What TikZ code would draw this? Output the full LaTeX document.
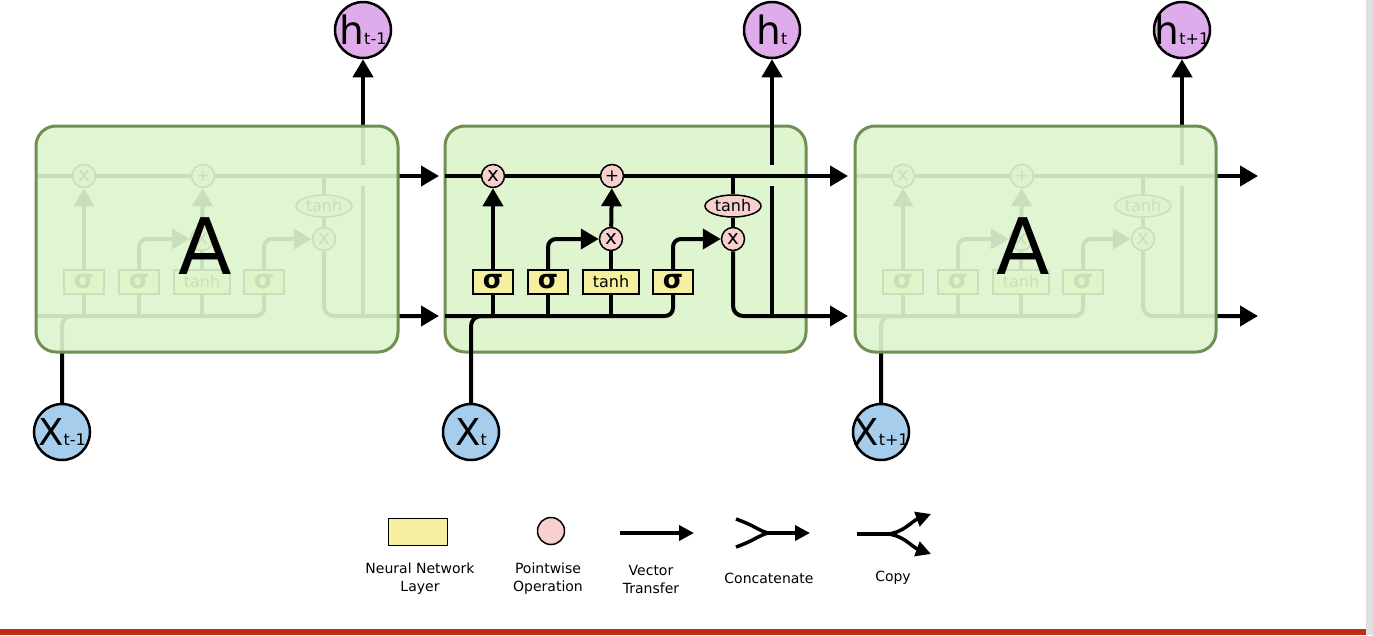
\documentclass[tikz,border=0pt]{standalone}
\usepackage{fontspec}
\setmainfont{DejaVu Sans}
\usetikzlibrary{arrows.meta,shapes.geometric}
\definecolor{cellfill}{RGB}{223,245,208}
\definecolor{cellfade}{RGB}{221,245,205}
\definecolor{celledge}{RGB}{111,143,83}
\definecolor{opfill}{RGB}{249,208,208}
\definecolor{layerfill}{RGB}{246,239,160}
\definecolor{hfill}{RGB}{222,172,234}
\definecolor{xfill}{RGB}{166,206,236}
\definecolor{barred}{RGB}{190,45,24}
\definecolor{bargrey}{RGB}{224,224,224}
\newcommand{\fs}[1]{\fontsize{#1}{#1}\selectfont}

\begin{document}
\begin{tikzpicture}[x=1pt, y=-1pt, line width=4pt,
  arr/.style={-{Triangle[length=18pt,width=20pt]}},
  larr/.style={-{Triangle[length=15pt,width=15pt]}},
  cell/.style={draw=celledge, line width=3pt, rounded corners=20pt},
  op/.style={circle, draw, line width=1.5pt, fill=opfill, minimum size=23pt, inner sep=0pt},
  lay/.style={draw, line width=1.5pt, fill=layerfill, minimum width=40pt, minimum height=24pt, inner sep=0pt},
  io/.style={circle, draw, line width=2.5pt, minimum size=56pt, inner sep=-10pt},
  lbl/.style={font=\fontsize{14}{18}\selectfont, align=center}]
  \useasboundingbox (0,0) rectangle (1373,635);
  \fill[bargrey] (1366,0) rectangle (1373,635);
  \fill[barred] (0,629) rectangle (1366,635);
  \draw[cell, fill=cellfill] (445,126) rectangle (806,352);
  \foreach \n/\dx/\s in {L/-409/t-1, M/0/t, R/410/t+1} {
    \begin{scope}[xshift=\dx pt]
      \coordinate (ci\n) at (445,176); \coordinate (co\n) at (848,176);
      \coordinate (hi\n) at (445,316); \coordinate (ho\n) at (848,316);
      \coordinate (hb\n) at (772,316); \coordinate (hg\n) at (772,186); \coordinate (hs\n) at (772,165);
      \node[op] (f\n) at (493,176) {\fs{20}x};
      \node[op] (p\n) at (612,176) {\fs{17}+};
      \node[op] (i\n) at (611,239) {\fs{20}x};
      \node[op] (o\n) at (733,239) {\fs{20}x};
      \node[op, ellipse, minimum width=56pt, minimum height=22pt] (th\n) at (733,206) {\fs{16}tanh};
      \node[lay] (s1\n) at (493,282) {\fs{26}\bfseries σ};
      \node[lay] (s2\n) at (548,282) {\fs{26}\bfseries σ};
      \node[lay, minimum width=56pt] (tb\n) at (611,282) {\fs{16}tanh};
      \node[lay] (s3\n) at (673,282) {\fs{26}\bfseries σ};
      \node[io, fill=hfill] (h\n) at (772,30) {\fs{39}h\fs{16}\s};
      \node[io, fill=xfill] (x\n) at (471,432) {\fs{37}X\fs{16}\s};
      \draw[arr] (ci\n) -- (f\n) -- (p\n) -- (co\n);
      \draw[rounded corners=8pt] (hi\n) -| (s3\n);
      \draw[rounded corners=10pt] (x\n) |- (s1\n |- hi\n);
      \foreach \b in {s1,s2,tb} \draw (\b\n) -- (\b\n |- hi\n);
      \draw[arr] (s1\n) -- (f\n);
      \draw[arr, rounded corners=8pt] (s2\n) |- (i\n);
      \draw (tb\n) -- (i\n);
      \draw[arr] (i\n) -- (p\n);
      \draw[arr, rounded corners=8pt] (s3\n) |- (o\n);
      \draw (th\n) -- (th\n |- ci\n); \draw (th\n) -- (o\n);
      \draw[arr, rounded corners=10pt] (o\n) |- (ho\n);
      \draw (hb\n) -- (hg\n); \draw[arr] (hs\n) -- (h\n);
    \end{scope}
  }
  \draw[cell, fill=cellfade, fill opacity=0.91] (36,126) rectangle (398,352);
  \draw[cell, fill=cellfade, fill opacity=0.91] (855,126) rectangle (1216,352);
  \node (aL) at (205,246) {\fs{78}A};
  \node (aR) at (1023,246) {\fs{78}A};
  \node[lay, minimum width=59pt, minimum height=27pt] (ly) at (418,532) {};
  \node[op, minimum size=27pt] (lp) at (551,531) {};
  \node[lbl] (tl) at (420,579) {Neural Network\\Layer};
  \node[lbl] (tp) at (548,579) {Pointwise\\Operation};
  \node[lbl] (tv) at (651,579) {Vector\\Transfer};
  \node[lbl] (tc) at (769,578) {Concatenate};
  \node[lbl] (tk) at (893,578) {Copy};
  \coordinate (v1) at (620,533); \coordinate (v2) at (694,533);
  \coordinate (c1) at (736,519); \coordinate (c2) at (736,547); \coordinate (cm) at (770,533); \coordinate (c3) at (810,533);
  \coordinate (k1) at (857,534); \coordinate (km) at (886,534); \coordinate (k2) at (931,514); \coordinate (k3) at (931,554);
  \draw[larr, line width=3.5pt] (v1) -- (v2);
  \draw[line width=3.5pt] (c1) .. controls (756,526) and (762,533) .. (cm);
  \draw[line width=3.5pt] (c2) .. controls (756,540) and (762,533) .. (cm);
  \draw[larr, line width=3.5pt] (cm) -- (c3);
  \draw[line width=3.5pt] (k1) -- (km);
  \draw[larr, line width=3.5pt] (km) .. controls (902,534) and (912,521) .. (k2);
  \draw[larr, line width=3.5pt] (km) .. controls (902,534) and (912,547) .. (k3);
\end{tikzpicture}
\end{document}
